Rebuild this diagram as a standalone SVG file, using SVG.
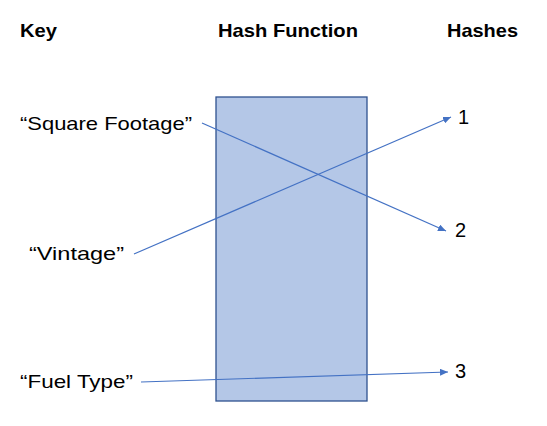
<svg xmlns="http://www.w3.org/2000/svg" width="547" height="426" viewBox="0 0 547 426">
<style>
.h{font-family:"Liberation Sans",Arial,sans-serif;font-weight:bold;font-size:19px;fill:#000}
.t{font-family:"Liberation Sans",Arial,sans-serif;font-size:19px;fill:#000}
.n{font-family:"Liberation Sans",Arial,sans-serif;font-size:20px;fill:#000}
.c{stroke:#4472c4;stroke-width:1.2;fill:none}
</style>
<defs>
<marker id="ah" viewBox="0 0 10 10" refX="10" refY="5" markerWidth="8" markerHeight="7" markerUnits="userSpaceOnUse" orient="auto" preserveAspectRatio="none">
<path d="M0,0 L10,5 L0,10 z" fill="#4472c4"/>
</marker>
</defs>
<rect width="547" height="426" fill="#fff"/>
<g id="headers">
<text class="h" x="20" y="37" textLength="37" lengthAdjust="spacingAndGlyphs">Key</text>
<text class="h" x="218" y="37" textLength="140" lengthAdjust="spacingAndGlyphs">Hash Function</text>
<text class="h" x="447" y="37" textLength="71" lengthAdjust="spacingAndGlyphs">Hashes</text>
</g>
<g id="hash-function">
<rect x="216" y="97" width="151" height="304" fill="#b4c7e7" stroke="#2f528f" stroke-width="1.3"/>
</g>
<g id="key-square-footage"><text class="t" x="20" y="130" textLength="172" lengthAdjust="spacingAndGlyphs">“Square Footage”</text></g>
<g id="key-vintage"><text class="t" x="29" y="260" textLength="95" lengthAdjust="spacingAndGlyphs">“Vintage”</text></g>
<g id="key-fuel-type"><text class="t" x="20" y="388" textLength="113" lengthAdjust="spacingAndGlyphs">“Fuel Type”</text></g>
<g id="hash-1"><text class="n" x="458" y="124">1</text></g>
<g id="hash-2"><text class="n" x="455" y="237">2</text></g>
<g id="hash-3"><text class="n" x="455" y="378">3</text></g>
<g id="connectors">
<line class="c" x1="202" y1="123" x2="446" y2="231" marker-end="url(#ah)"/>
<line class="c" x1="134" y1="254" x2="451" y2="117" marker-end="url(#ah)"/>
<line class="c" x1="141" y1="382" x2="448" y2="372" marker-end="url(#ah)"/>
</g>
</svg>
